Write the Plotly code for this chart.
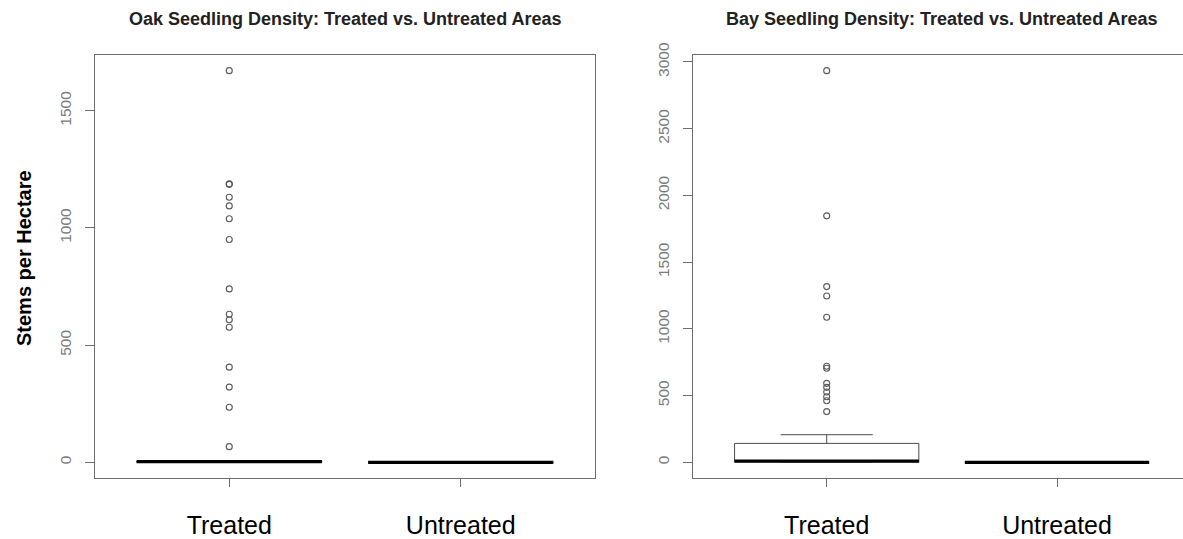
import plotly.graph_objects as go

# ---------------- data ----------------
categories = ["Treated", "Untreated"]
cat_pos = [1, 2]

# Oak seedlings (stems per hectare)
oak_q1 = [0, 0]
oak_median = [3, 0]
oak_q3 = [5, 0]
oak_lowerfence = [0, 0]
oak_upperfence = [5, 0]
oak_treated_outliers = [67, 235, 321, 406, 576, 608, 632, 740, 951, 1039,
                        1094, 1131, 1186, 1188, 1671]
oak_untreated_outliers = []

# Bay seedlings (stems per hectare)
bay_q1 = [0, 0]
bay_median = [10, 0]
bay_q3 = [142, 0]
bay_lowerfence = [0, 0]
bay_upperfence = [207, 0]
bay_treated_outliers = [380, 462, 492, 527, 562, 592, 705, 720, 1087, 1247,
                        1317, 1847, 2935]
bay_untreated_outliers = []

titles = ["Oak Seedling Density: Treated vs. Untreated Areas",
          "Bay Seedling Density: Treated vs. Untreated Areas"]
y_title = "Stems per Hectare"

# ---------------- style ----------------
W, H = 1183, 539
FONT = "Liberation Sans, Arial, sans-serif"
BOX_W = 0.8
AXIS_COL = "#6e6e6e"
BOX_COL = "#4a4a4a"
PT_COL = "#5a5a5a"


def px_x(p):
    return p / W


def px_y(p):
    return 1 - p / H


fig = go.Figure()


def add_panel(xref, yref, q1, med, q3, lf, uf, outs):
    for i, pos in enumerate(cat_pos):
        fig.add_trace(go.Box(
            x=[pos], q1=[q1[i]], median=[med[i]], q3=[q3[i]],
            lowerfence=[lf[i]], upperfence=[uf[i]],
            width=BOX_W, whiskerwidth=0.5, boxpoints=False,
            fillcolor="white", line=dict(color=BOX_COL, width=1),
            xaxis=xref, yaxis=yref, showlegend=False, hoverinfo="skip"))
        # thick median line (R style)
        fig.add_trace(go.Scatter(
            x=[pos - BOX_W / 2, pos + BOX_W / 2], y=[med[i], med[i]],
            mode="lines", line=dict(color="black", width=3.2),
            xaxis=xref, yaxis=yref, showlegend=False, hoverinfo="skip"))
        if outs[i]:
            fig.add_trace(go.Scatter(
                x=[pos] * len(outs[i]), y=outs[i], mode="markers",
                marker=dict(symbol="circle-open", size=6, color=PT_COL,
                            line=dict(width=1.1, color=PT_COL)),
                xaxis=xref, yaxis=yref, showlegend=False, hoverinfo="skip"))


add_panel("x", "y", oak_q1, oak_median, oak_q3, oak_lowerfence, oak_upperfence,
          [oak_treated_outliers, oak_untreated_outliers])
add_panel("x2", "y2", bay_q1, bay_median, bay_q3, bay_lowerfence, bay_upperfence,
          [bay_treated_outliers, bay_untreated_outliers])

oak_max = max(oak_treated_outliers)
bay_max = max(bay_treated_outliers)

y_dom = [px_y(478), px_y(55)]

xaxis_common = dict(
    tickvals=cat_pos, ticktext=categories, showgrid=False, zeroline=False,
    showline=True, linecolor=AXIS_COL, linewidth=1.3,
    ticks="outside", ticklen=8, tickcolor=AXIS_COL, tickwidth=1.2,
    tickfont=dict(family=FONT, size=25, color="black"),
    ticklabelstandoff=17, automargin=False)
yaxis_common = dict(
    showgrid=False, zeroline=False, showline=True, linecolor=AXIS_COL,
    linewidth=1.3, ticks="outside", ticklen=9, tickcolor=AXIS_COL,
    tickwidth=1.2, dtick=500, tickangle=-90,
    tickfont=dict(family=FONT, size=15.5, color="#7a7a7a"),
    ticklabelstandoff=8, automargin=False)

fig.update_layout(
    width=W, height=H, margin=dict(l=0, r=0, t=0, b=0, autoexpand=False),
    paper_bgcolor="white", plot_bgcolor="white",
    xaxis=dict(**xaxis_common, anchor="y", domain=[px_x(95), px_x(595)],
               range=[0.42, 2.58], mirror=True),
    yaxis=dict(**yaxis_common, domain=y_dom, anchor="x",
               range=[-0.04 * oak_max, 1.04 * oak_max], mirror=True),
    xaxis2=dict(**xaxis_common, anchor="y2", domain=[px_x(693), 1.0],
                range=[0.4195, 2.547], mirror=True),
    yaxis2=dict(**yaxis_common, domain=y_dom, anchor="x2",
                range=[-0.04 * bay_max, 1.04 * bay_max], mirror=False),
)

for t, cx in zip(titles, [345, 942]):
    fig.add_annotation(text=f"<b>{t}</b>", x=px_x(cx), y=px_y(19),
                       xref="paper", yref="paper", showarrow=False,
                       xanchor="center", yanchor="middle",
                       font=dict(family=FONT, size=18, color="#222"))
fig.add_annotation(text=f"<b>{y_title}</b>", x=px_x(24), y=px_y(258),
                   xref="paper", yref="paper", showarrow=False, textangle=-90,
                   xanchor="center", yanchor="middle",
                   font=dict(family=FONT, size=20, color="black"))

fig.write_html(
    "out.html",
    config={"displayModeBar": False},
    post_script="document.body.style.margin='0';"
                "document.body.style.overflow='hidden';")
